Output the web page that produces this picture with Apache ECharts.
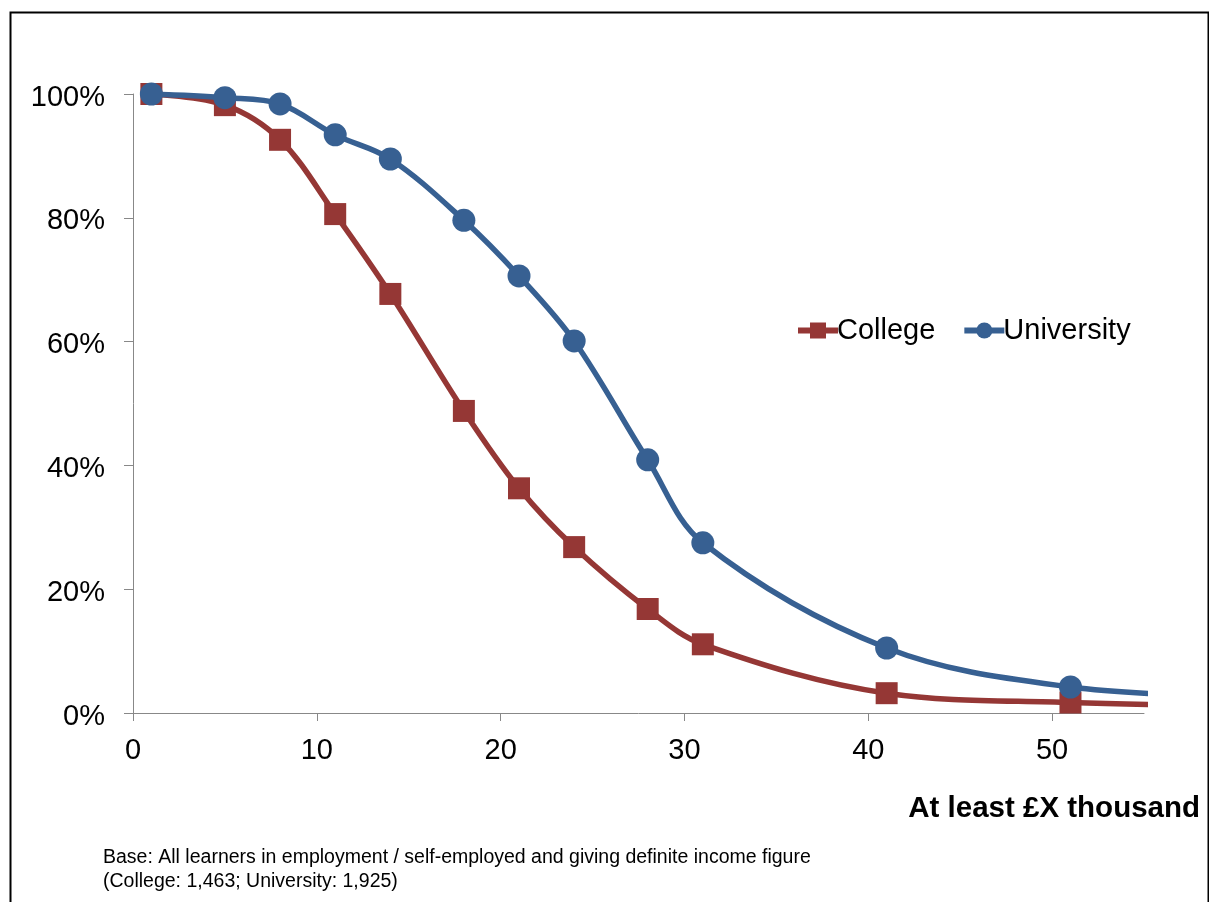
<!DOCTYPE html>
<html>
<head>
<meta charset="utf-8">
<script src="https://cdn.jsdelivr.net/npm/echarts@6/dist/echarts.min.js"></script>
<style>
  html, body { margin: 0; padding: 0; background: #fff; }
  #chart { width: 1209px; height: 902px; }
</style>
</head>
<body>
<div id="chart"></div>
<script>
// Income thresholds (£ thousand) and share of learners earning at least that much (%)
const incomeK = [1, 5, 8, 11, 14, 18, 21, 24, 28, 31, 41, 51, 61];
const collegePct = [100, 98.2, 92.6, 80.6, 67.7, 48.8, 36.3, 26.8, 16.8, 11.1, 3.2, 1.7, 1.1];
const universityPct = [100, 99.4, 98.4, 93.4, 89.5, 79.6, 70.6, 60.1, 40.9, 27.5, 10.5, 4.2, 2.6];
const xTicks = [0, 10, 20, 30, 40, 50];
const yTicks = [0, 20, 40, 60, 80, 100];

const FONT = '"Liberation Sans", Arial, sans-serif';
const RED = '#953735';
const BLUE = '#376092';

const pairs = (xs, ys) => xs.map((x, i) => [x, ys[i]]);

const chart = echarts.init(document.getElementById('chart'), null, { renderer: 'canvas' });
chart.setOption({
  backgroundColor: '#ffffff',
  animation: false,
  grid: { left: 133, right: 65, top: 94, bottom: 189, containLabel: false },
  legend: {
    left: 795, top: 316, padding: 0,
    itemWidth: 40, itemHeight: 20, itemGap: 26,
    lineStyle: { width: 6 },
    textStyle: { fontFamily: FONT, fontSize: 29, color: '#000', padding: [0, 0, 0, -6] },
    data: ['College', 'University']
  },
  xAxis: {
    type: 'value', min: 0, max: 55, interval: 10,
    splitLine: { show: false },
    axisLine: { lineStyle: { color: '#888', width: 1 } },
    axisTick: { show: true, length: 8, lineStyle: { color: '#888' },
      customValues: xTicks },
    axisLabel: { fontFamily: FONT, fontSize: 29, color: '#000', margin: 23,
      customValues: xTicks },
  },
  yAxis: {
    type: 'value', min: 0, max: 100, interval: 20,
    splitLine: { show: false },
    axisLine: { show: true, lineStyle: { color: '#888', width: 1 } },
    axisTick: { show: true, length: 9, lineStyle: { color: '#888' } },
    axisLabel: {
      margin: 28,
      formatter: v => yTicks.includes(v) ? '{t|' + v + '%}' : '',
      rich: { t: { fontFamily: FONT, fontSize: 29, color: '#000', padding: [7, 0, 0, 0] } }
    },
  },
  series: [
    {
      name: 'College', type: 'line', data: pairs(incomeK, collegePct),
      smooth: 0.35, clip: true,
      symbol: 'rect', symbolSize: 22,
      lineStyle: { color: RED, width: 5.5 },
      itemStyle: { color: RED },
      z: 2
    },
    {
      name: 'University', type: 'line', data: pairs(incomeK, universityPct),
      smooth: 0.35, clip: true,
      symbol: 'circle', symbolSize: 23,
      lineStyle: { color: BLUE, width: 5.5 },
      itemStyle: { color: BLUE },
      z: 3
    }
  ],
  graphic: [
    {
      type: 'rect', left: 8, top: 10, z: -1,
      shape: { x: 0, y: 0, width: 1198, height: 900 },
      style: { fill: 'none', stroke: '#000', lineWidth: 2 }
    },
    {
      type: 'text', right: 9, top: 794,
      style: { text: 'At least £X thousand', font: 'bold 29.5px ' + FONT, fill: '#000' }
    },
    {
      type: 'text', left: 103, top: 846,
      style: {
        text: 'Base: All learners in employment / self-employed and giving definite income figure\n(College: 1,463; University: 1,925)',
        font: '19.5px ' + FONT, fill: '#000', lineHeight: 24
      }
    }
  ]
});
</script>
</body>
</html>
